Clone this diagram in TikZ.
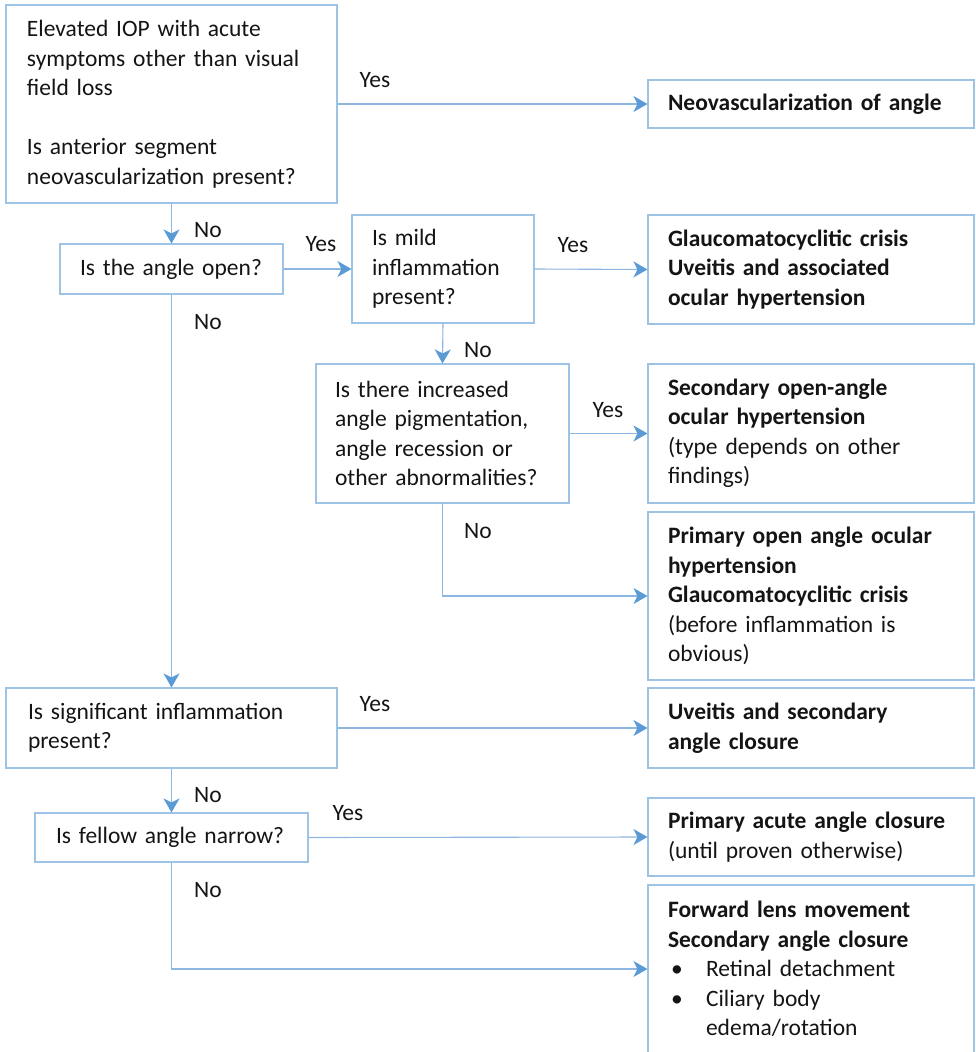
\documentclass[tikz,border=0pt]{standalone}
\usepackage{fontspec}
\setmainfont{Carlito}
\usetikzlibrary{arrows.meta}
\definecolor{boxline}{HTML}{9DC3E6}
\definecolor{linkline}{HTML}{8DB6E0}
\definecolor{tipblue}{HTML}{5B9BD5}
\tikzset{
  every node/.style={font=\fontsize{23.5}{29.5}\selectfont, text=black!92},
  box/.style={draw=boxline, line width=1.1pt, align=left, inner xsep=20pt, inner ysep=0pt},
  qbox/.style={box, inner xsep=21pt},
  abox/.style={box, text width=286pt, minimum height=#1},
  link/.style={draw=linkline, line width=1.1pt,
    -{Stealth[length=14pt, width=16pt, inset=4pt, color=tipblue]}},
  lbl/.style={inner sep=0pt}
}

\begin{document}
\begin{tikzpicture}[x=1pt, y=-1pt]
\useasboundingbox (0,0) rectangle (975,1052);
\clip (0,0) rectangle (975,1052);

\node[qbox, text width=289pt, minimum height=198pt] (start) at (171.5,104)
  {Elevated IOP with acute\\ symptoms other than visual\\ field loss\\[29.5pt] Is anterior segment\\ neovascularization present?};
\node[abox=48pt] (neo) at (811,104) {\textbf{Neovascularization of angle}};

\node[box, text width=183pt, minimum height=50pt] (open) at (171.5,269) {Is the angle open?};
\node[box, text width=142pt, minimum height=108pt] (mild) at (443,269) {Is mild\\ inflammation\\ present?};
\node[abox=109pt] (glauc) at (811,269.5)
  {\textbf{Glaucomatocyclitic crisis}\\ \textbf{Uveitis and associated}\\ \textbf{ocular hypertension}};

\node[box, inner xsep=19pt, text width=215pt, minimum height=139pt] (pigm) at (442.5,433.5)
  {Is there increased\\ angle pigmentation,\\ angle recession or\\ other abnormalities?};
\node[abox=139pt] (secopen) at (811,433.5)
  {\textbf{Secondary open-angle}\\ \textbf{ocular hypertension}\\ (type depends on other\\ findings)};
\node[abox=168pt] (primopen) at (811,596)
  {\textbf{Primary open angle ocular}\\ \textbf{hypertension}\\ \textbf{Glaucomatocyclitic crisis}\\ (before inflammation is\\ obvious)};

\node[qbox, inner xsep=22pt, text width=287pt, minimum height=80pt] (signif) at (171.5,728)
  {Is significant inflammation\\ present?};
\node[abox=80pt] (uveitis) at (811,728) {\textbf{Uveitis and secondary}\\ \textbf{angle closure}};

\node[qbox, text width=231pt, minimum height=49pt] (fellow) at (171.5,837.5) {Is fellow angle narrow?};
\node[abox=78pt] (acute) at (811,837) {\textbf{Primary acute angle closure}\\ (until proven otherwise)};
\node[abox=168pt] (forward) at (811,969)
  {\textbf{Forward lens movement}\\ \textbf{Secondary angle closure}\\
   \makebox[38pt][l]{\hspace{3pt}\textbullet}Retinal detachment\\
   \makebox[38pt][l]{\hspace{3pt}\textbullet}Ciliary body\\
   \hspace*{38pt}edema/rotation};

\draw[link] (start.east) -- (neo.west);
\draw[link] (start.south) -- (open.north);
\draw[link] (open.east) -- (mild.west);
\draw[link] (mild.east) -- (glauc.west);
\draw[link] (mild.south) -- (pigm.north);
\draw[link] (pigm.east) -- (secopen.west);
\draw[link] (pigm.south) |- (primopen.west);
\draw[link] (open.south) -- (signif.north);
\draw[link] (signif.east) -- (uveitis.west);
\draw[link] (signif.south) -- (fellow.north);
\draw[link] (fellow.east) -- (acute.west);
\draw[link] (fellow.south) |- (forward.west);

\node[lbl] (y1) at (375,80) {Yes};
\node[lbl] (n1) at (208,230) {No};
\node[lbl] (y2) at (321,244) {Yes};
\node[lbl] (y3) at (573,245) {Yes};
\node[lbl] (n2) at (478,350) {No};
\node[lbl] (y4) at (608,410) {Yes};
\node[lbl] (n3) at (478,531) {No};
\node[lbl] (n4) at (208,322) {No};
\node[lbl] (y5) at (375,704) {Yes};
\node[lbl] (n5) at (208,795) {No};
\node[lbl] (y6) at (348,813) {Yes};
\node[lbl] (n6) at (208,890) {No};
\end{tikzpicture}
\end{document}
